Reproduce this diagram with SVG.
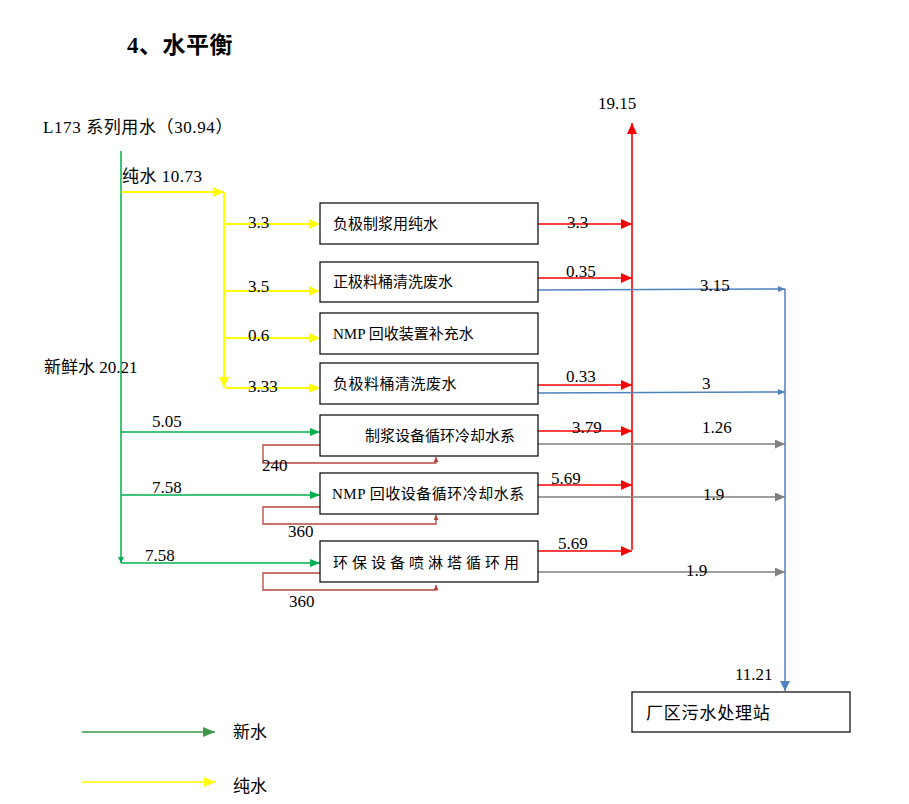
<svg xmlns="http://www.w3.org/2000/svg" width="909" height="804" viewBox="0 0 909 804">
<style>
text{font-family:"Liberation Serif","Noto Sans CJK SC",serif;font-size:17px;fill:#000}
.bt{font-size:15px}
.box{fill:#fff;stroke:#000;stroke-width:1.2}
.g{stroke:#00B050;stroke-width:1.5;fill:none}
.y{stroke:#FFFF00;stroke-width:2;fill:none}
.r{stroke:#FF0000;stroke-width:1.5;fill:none}
.rv{stroke:#FF3333;stroke-width:2;fill:none}
.b{stroke:#4F81BD;stroke-width:1.5;fill:none}
.gr{stroke:#808080;stroke-width:1.5;fill:none}
.dr{stroke:#B5453F;stroke-width:1.3;fill:none}
</style>
<defs>
<marker id="ag" markerWidth="10" markerHeight="8" refX="10" refY="4" orient="auto" markerUnits="userSpaceOnUse"><path d="M0,0L10,4L0,8z" fill="#00B050"/></marker>
<marker id="ags" markerWidth="6" markerHeight="6" refX="6" refY="3" orient="auto" markerUnits="userSpaceOnUse"><path d="M0,0L6,3L0,6z" fill="#00B050"/></marker>
<marker id="ay" markerWidth="11" markerHeight="10" refX="11" refY="5" orient="auto" markerUnits="userSpaceOnUse"><path d="M0,0L11,5L0,10z" fill="#FFFF00"/></marker>
<marker id="ar" markerWidth="11" markerHeight="10" refX="11" refY="5" orient="auto" markerUnits="userSpaceOnUse"><path d="M0,0L11,5L0,10z" fill="#FF0000"/></marker>
<marker id="ab" markerWidth="7" markerHeight="6" refX="7" refY="3" orient="auto" markerUnits="userSpaceOnUse"><path d="M0,0L7,3L0,6z" fill="#4F81BD"/></marker>
<marker id="abl" markerWidth="10" markerHeight="10" refX="10" refY="5" orient="auto" markerUnits="userSpaceOnUse"><path d="M0,0L10,5L0,10z" fill="#4F81BD"/></marker>
<marker id="agr" markerWidth="10" markerHeight="9" refX="10" refY="4.5" orient="auto" markerUnits="userSpaceOnUse"><path d="M0,0L10,4.5L0,9z" fill="#808080"/></marker>
<marker id="adr" markerWidth="5" markerHeight="5" refX="5" refY="2.5" orient="auto" markerUnits="userSpaceOnUse"><path d="M0,0L5,2.5L0,5z" fill="#B5453F"/></marker>
<marker id="alg" markerWidth="12" markerHeight="10" refX="12" refY="5" orient="auto" markerUnits="userSpaceOnUse"><path d="M0,0L12,5L0,10z" fill="#3E9A49"/></marker>
</defs>

<text x="127" y="53" style="font-size:23px;font-weight:bold" letter-spacing="0.5">4、水平衡</text>
<text x="43" y="133" letter-spacing="0.6">L173 系列用水（30.94）</text>
<text x="122" y="182" letter-spacing="0.5">纯水 10.73</text>
<text x="44" y="373">新鲜水 20.21</text>

<g id="connectors">
<path class="g" d="M121,151V563" marker-end="url(#ags)"/>
<path class="g" d="M121,432H320" marker-end="url(#ag)"/>
<path class="g" d="M121,495H320" marker-end="url(#ag)"/>
<path class="g" d="M121,563H320" marker-end="url(#ag)"/>
<path class="y" d="M121,192H224" marker-end="url(#ay)"/>
<path class="y" d="M224,192V388" marker-end="url(#ay)"/>
<path class="y" d="M226,224H320" marker-end="url(#ay)"/>
<path class="y" d="M226,291H320" marker-end="url(#ay)"/>
<path class="y" d="M226,338H320" marker-end="url(#ay)"/>
<path class="y" d="M226,388H320" marker-end="url(#ay)"/>
<path class="rv" d="M632,550V123" marker-end="url(#ar)"/>
<path class="r" d="M538,224H632" marker-end="url(#ar)"/>
<path class="r" d="M538,278H632" marker-end="url(#ar)"/>
<path class="r" d="M538,385H632" marker-end="url(#ar)"/>
<path class="r" d="M538,431H632" marker-end="url(#ar)"/>
<path class="r" d="M538,485H632" marker-end="url(#ar)"/>
<path class="r" d="M538,551H632" marker-end="url(#ar)"/>
<path class="b" d="M538,290L785,289" marker-end="url(#ab)"/>
<path class="b" d="M538,393L785,392" marker-end="url(#ab)"/>
<path class="b" d="M785,289V691" marker-end="url(#abl)"/>
<path class="gr" d="M538,444H785" marker-end="url(#agr)"/>
<path class="gr" d="M538,497H785" marker-end="url(#agr)"/>
<path class="gr" d="M538,572H785" marker-end="url(#agr)"/>
<path class="dr" d="M320,445H263V463H436V457" marker-end="url(#adr)"/>
<path class="dr" d="M320,507H263V524H436V515" marker-end="url(#adr)"/>
<path class="dr" d="M320,573H263V590H436V585" marker-end="url(#adr)"/>
</g>

<g id="labels">
<text x="248" y="228">3.3</text>
<text x="248" y="292">3.5</text>
<text x="248" y="341">0.6</text>
<text x="248" y="392">3.33</text>
<text x="152" y="427">5.05</text>
<text x="152" y="493">7.58</text>
<text x="145" y="561">7.58</text>
<text x="567" y="228">3.3</text>
<text x="566" y="277">0.35</text>
<text x="700" y="291">3.15</text>
<text x="566" y="382">0.33</text>
<text x="702" y="389">3</text>
<text x="572" y="433">3.79</text>
<text x="702" y="433">1.26</text>
<text x="551" y="484">5.69</text>
<text x="703" y="500">1.9</text>
<text x="558" y="549">5.69</text>
<text x="686" y="576">1.9</text>
<text x="598" y="109">19.15</text>
<text x="735" y="680">11.21</text>
<text x="262" y="471">240</text>
<text x="288" y="537">360</text>
<text x="289" y="607">360</text>
</g>

<g id="n1"><rect class="box" x="320" y="203" width="218" height="41"/><text class="bt" x="333" y="229">负极制浆用纯水</text></g>
<g id="n2"><rect class="box" x="320" y="262" width="218" height="40"/><text class="bt" x="333" y="287">正极料桶清洗废水</text></g>
<g id="n3"><rect class="box" x="320" y="313" width="218" height="41"/><text class="bt" x="333" y="339">NMP 回收装置补充水</text></g>
<g id="n4"><rect class="box" x="320" y="363" width="218" height="41"/><text class="bt" x="333" y="389" letter-spacing="0.5">负极料桶清洗废水</text></g>
<g id="n5"><rect class="box" x="320" y="415" width="218" height="41"/><text class="bt" x="365" y="441">制浆设备循环冷却水系</text></g>
<g id="n6"><rect class="box" x="320" y="473" width="218" height="41"/><text class="bt" x="332" y="499" letter-spacing="0.5">NMP 回收设备循环冷却水系</text></g>
<g id="n7"><rect class="box" x="320" y="541" width="218" height="41"/><text class="bt" x="333" y="568" letter-spacing="4">环保设备喷淋塔循环用</text></g>
<g id="n8"><rect class="box" x="632" y="692" width="218" height="40"/><text x="646" y="719" letter-spacing="0.8">厂区污水处理站</text></g>

<g id="legend">
<path d="M82,732H215" stroke="#3E9A49" stroke-width="1.5" marker-end="url(#alg)"/>
<text x="233" y="738">新水</text>
<path d="M82,782H215" stroke="#FFFF00" stroke-width="1.5" marker-end="url(#ay)"/>
<text x="233" y="792">纯水</text>
</g>
</svg>
